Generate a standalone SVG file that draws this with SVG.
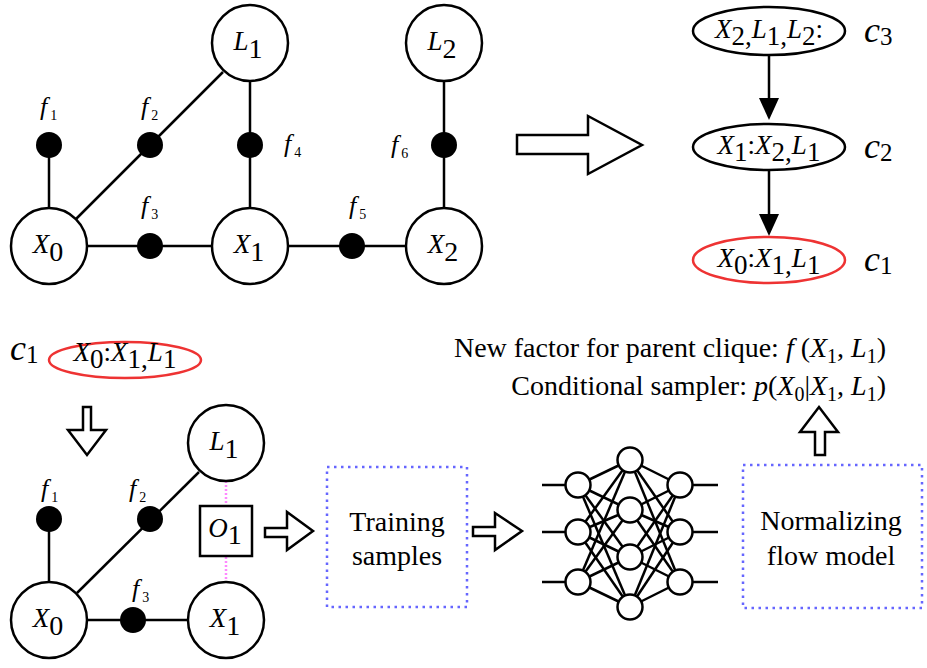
<svg xmlns="http://www.w3.org/2000/svg" width="927" height="668" viewBox="0 0 927 668">
<style>
text{font-family:"Liberation Serif","Times New Roman",serif;fill:#000}
.node{fill:#fff;stroke:#000;stroke-width:2.5}
.fac{fill:#000}
.edge{stroke:#000;stroke-width:2.5;fill:none}
.nl{font-size:27px;font-style:italic}
.nd{font-size:28px;font-style:normal}
.f{font-size:26px;font-style:italic}
.fs{font-size:14px;font-style:normal}
.el{font-size:27px;font-style:italic}
.up{font-style:normal}
.c{font-size:36px;font-style:italic}
.cs{font-size:25px;font-style:normal}
.hollow{fill:#fff;stroke:#000;stroke-width:2.5;stroke-linejoin:miter}
.box{fill:none;stroke:#6666ff;stroke-width:2.5;stroke-dasharray:2.5 4.5}
.lbl{font-size:28px}
.m{font-style:italic}
.ms{font-size:20px;font-style:normal}
.nn{fill:#fff;stroke:#000;stroke-width:2.5}
</style>

<g id="connectors">
  <line class="edge" x1="49" y1="145" x2="49" y2="208"/>
  <line class="edge" x1="76" y1="219" x2="223" y2="72"/>
  <line class="edge" x1="250" y1="81" x2="250" y2="208"/>
  <line class="edge" x1="87" y1="246" x2="212" y2="246"/>
  <line class="edge" x1="288" y1="246" x2="406" y2="246"/>
  <line class="edge" x1="444" y1="81" x2="444" y2="208"/>
  <polygon class="hollow" points="517,135 588,135 588,116 642,145 588,174 588,154 517,154"/>
  <line class="edge" x1="769" y1="54" x2="769" y2="100"/>
  <polygon points="759,98 779,98 769,120" fill="#000"/>
  <line class="edge" x1="769" y1="170" x2="769" y2="215"/>
  <polygon points="759,214 779,214 769,236" fill="#000"/>
  <polygon class="hollow" points="83,407 91,407 91,430 106,430 87,455 68,430 83,430"/>
  <line class="edge" x1="49" y1="519" x2="49" y2="582"/>
  <line class="edge" x1="77" y1="593" x2="199" y2="472"/>
  <line class="edge" x1="87" y1="620" x2="188" y2="620"/>
  <line x1="226" y1="481" x2="226" y2="506" stroke="#ff88ff" stroke-width="2.5" stroke-dasharray="2 2"/>
  <line x1="226" y1="557" x2="226" y2="582" stroke="#ff88ff" stroke-width="2.5" stroke-dasharray="2 2"/>
  <polygon class="hollow" points="265,528 287,528 287,512 313,531 287,550 287,537 265,537"/>
  <polygon class="hollow" points="473,527 495,527 495,513 522,531 495,550 495,536 473,536"/>
  <polygon class="hollow" points="815,455 815,432 800,432 819,407 838,432 825,432 825,455"/>
</g>

<g id="X0">
  <circle class="node" cx="49" cy="246" r="38"/>
  <text class="nl" x="48" y="253" text-anchor="middle">X<tspan class="nd" dy="8">0</tspan></text>
</g>
<g id="X1">
  <circle class="node" cx="250" cy="246" r="38"/>
  <text class="nl" x="249" y="253" text-anchor="middle">X<tspan class="nd" dy="8">1</tspan></text>
</g>
<g id="X2">
  <circle class="node" cx="444" cy="246" r="38"/>
  <text class="nl" x="443" y="253" text-anchor="middle">X<tspan class="nd" dy="8">2</tspan></text>
</g>
<g id="L1">
  <circle class="node" cx="250" cy="43" r="38"/>
  <text class="nl" x="248" y="50" text-anchor="middle">L<tspan class="nd" dy="8">1</tspan></text>
</g>
<g id="L2">
  <circle class="node" cx="444" cy="43" r="38"/>
  <text class="nl" x="442" y="50" text-anchor="middle">L<tspan class="nd" dy="8">2</tspan></text>
</g>
<g id="f1">
  <circle class="fac" cx="49" cy="145" r="13"/>
  <text class="f" x="40" y="115">f<tspan class="fs" dx="3" dy="5">1</tspan></text>
</g>
<g id="f2">
  <circle class="fac" cx="150" cy="145" r="13"/>
  <text class="f" x="141" y="115">f<tspan class="fs" dx="3" dy="5">2</tspan></text>
</g>
<g id="f3">
  <circle class="fac" cx="150" cy="246" r="13"/>
  <text class="f" x="141" y="214">f<tspan class="fs" dx="3" dy="5">3</tspan></text>
</g>
<g id="f4">
  <circle class="fac" cx="250" cy="145" r="13"/>
  <text class="f" x="284" y="152">f<tspan class="fs" dx="3" dy="5">4</tspan></text>
</g>
<g id="f5">
  <circle class="fac" cx="352" cy="246" r="13"/>
  <text class="f" x="349" y="214">f<tspan class="fs" dx="3" dy="5">5</tspan></text>
</g>
<g id="f6">
  <circle class="fac" cx="444" cy="145" r="13"/>
  <text class="f" x="391" y="153">f<tspan class="fs" dx="3" dy="5">6</tspan></text>
</g>

<g id="c3">
  <ellipse class="node" cx="769" cy="31" rx="76" ry="24"/>
  <text class="el" x="769" y="38" text-anchor="middle">X<tspan class="up" dy="7">2,</tspan><tspan dy="-7">L</tspan><tspan class="up" dy="7">1,</tspan><tspan dy="-7">L</tspan><tspan class="up" dy="7">2</tspan><tspan class="up" dy="-7">:</tspan></text>
  <text class="c" x="864" y="42">c<tspan class="cs" dy="3">3</tspan></text>
</g>
<g id="c2">
  <ellipse class="node" cx="769" cy="147" rx="76" ry="23"/>
  <text class="el" x="769" y="154" text-anchor="middle">X<tspan class="up" dy="7">1</tspan><tspan class="up" dy="-7">:</tspan>X<tspan class="up" dy="7">2,</tspan><tspan dy="-7">L</tspan><tspan class="up" dy="7">1</tspan></text>
  <text class="c" x="864" y="158">c<tspan class="cs" dy="3">2</tspan></text>
</g>
<g id="c1">
  <ellipse cx="769" cy="260" rx="76" ry="23" fill="#fff" stroke="#ee3333" stroke-width="2.5"/>
  <text class="el" x="769" y="267" text-anchor="middle">X<tspan class="up" dy="7">0</tspan><tspan class="up" dy="-7">:</tspan>X<tspan class="up" dy="7">1,</tspan><tspan dy="-7">L</tspan><tspan class="up" dy="7">1</tspan></text>
  <text class="c" x="864" y="271">c<tspan class="cs" dy="3">1</tspan></text>
</g>

<g id="c1b">
  <text class="c" x="10" y="360">c<tspan class="cs" dy="3">1</tspan></text>
  <ellipse cx="125" cy="360" rx="76" ry="18" fill="#fff" stroke="#ee3333" stroke-width="2.5"/>
  <text class="el" x="125" y="361" text-anchor="middle">X<tspan class="up" dy="7">0</tspan><tspan class="up" dy="-7">:</tspan>X<tspan class="up" dy="7">1,</tspan><tspan dy="-7">L</tspan><tspan class="up" dy="7">1</tspan></text>
</g>

<g id="bX0">
  <circle class="node" cx="49" cy="620" r="38"/>
  <text class="nl" x="48" y="627" text-anchor="middle">X<tspan class="nd" dy="8">0</tspan></text>
</g>
<g id="bX1">
  <circle class="node" cx="226" cy="620" r="38"/>
  <text class="nl" x="225" y="627" text-anchor="middle">X<tspan class="nd" dy="8">1</tspan></text>
</g>
<g id="bL1">
  <circle class="node" cx="226" cy="443" r="38"/>
  <text class="nl" x="224" y="450" text-anchor="middle">L<tspan class="nd" dy="8">1</tspan></text>
</g>
<g id="bf1">
  <circle class="fac" cx="49" cy="519" r="13"/>
  <text class="f" x="41" y="497">f<tspan class="fs" dx="3" dy="5">1</tspan></text>
</g>
<g id="bf2">
  <circle class="fac" cx="150" cy="519" r="13"/>
  <text class="f" x="129" y="497">f<tspan class="fs" dx="3" dy="5">2</tspan></text>
</g>
<g id="bf3">
  <circle class="fac" cx="133" cy="620" r="13"/>
  <text class="f" x="132" y="597">f<tspan class="fs" dx="3" dy="5">3</tspan></text>
</g>
<g id="O1">
  <rect x="200" y="506" width="52" height="50" fill="#fff" stroke="#000" stroke-width="2.5"/>
  <text class="nl" x="225" y="537" text-anchor="middle">O<tspan class="nd" dy="7">1</tspan></text>
</g>

<g id="training">
  <rect class="box" x="327" y="467" width="140" height="140"/>
  <text class="lbl" x="397" y="531" text-anchor="middle">Training</text>
  <text class="lbl" x="397" y="565" text-anchor="middle">samples</text>
</g>

<g id="nnet">
  <g class="edge">
    <line x1="542" y1="485" x2="578" y2="485"/>
    <line x1="542" y1="532" x2="578" y2="532"/>
    <line x1="542" y1="582" x2="578" y2="582"/>
    <line x1="680" y1="485" x2="718" y2="485"/>
    <line x1="680" y1="532" x2="718" y2="532"/>
    <line x1="680" y1="582" x2="718" y2="582"/>
    <line x1="578" y1="485" x2="630" y2="460"/><line x1="578" y1="485" x2="630" y2="510"/><line x1="578" y1="485" x2="630" y2="557"/><line x1="578" y1="485" x2="630" y2="607"/>
    <line x1="578" y1="532" x2="630" y2="460"/><line x1="578" y1="532" x2="630" y2="510"/><line x1="578" y1="532" x2="630" y2="557"/><line x1="578" y1="532" x2="630" y2="607"/>
    <line x1="578" y1="582" x2="630" y2="460"/><line x1="578" y1="582" x2="630" y2="510"/><line x1="578" y1="582" x2="630" y2="557"/><line x1="578" y1="582" x2="630" y2="607"/>
    <line x1="680" y1="485" x2="630" y2="460"/><line x1="680" y1="485" x2="630" y2="510"/><line x1="680" y1="485" x2="630" y2="557"/><line x1="680" y1="485" x2="630" y2="607"/>
    <line x1="680" y1="532" x2="630" y2="460"/><line x1="680" y1="532" x2="630" y2="510"/><line x1="680" y1="532" x2="630" y2="557"/><line x1="680" y1="532" x2="630" y2="607"/>
    <line x1="680" y1="582" x2="630" y2="460"/><line x1="680" y1="582" x2="630" y2="510"/><line x1="680" y1="582" x2="630" y2="557"/><line x1="680" y1="582" x2="630" y2="607"/>
  </g>
  <circle class="nn" cx="578" cy="485" r="12.5"/>
  <circle class="nn" cx="578" cy="532" r="12.5"/>
  <circle class="nn" cx="578" cy="582" r="12.5"/>
  <circle class="nn" cx="630" cy="460" r="12.5"/>
  <circle class="nn" cx="630" cy="510" r="12.5"/>
  <circle class="nn" cx="630" cy="557" r="12.5"/>
  <circle class="nn" cx="630" cy="607" r="12.5"/>
  <circle class="nn" cx="680" cy="485" r="12.5"/>
  <circle class="nn" cx="680" cy="532" r="12.5"/>
  <circle class="nn" cx="680" cy="582" r="12.5"/>
</g>

<g id="flow">
  <rect class="box" x="743" y="465" width="179" height="143"/>
  <text class="lbl" x="831" y="530" text-anchor="middle">Normalizing</text>
  <text class="lbl" x="831" y="565" text-anchor="middle">flow model</text>
</g>

<g id="outputs">
  <text class="lbl" x="886" y="357" text-anchor="end">New factor for parent clique: <tspan class="m">f</tspan> (<tspan class="m">X</tspan><tspan class="ms" dy="6">1</tspan><tspan dy="-6">, </tspan><tspan class="m">L</tspan><tspan class="ms" dy="6">1</tspan><tspan dy="-6">)</tspan></text>
  <text class="lbl" x="886" y="395" text-anchor="end">Conditional sampler: <tspan class="m">p</tspan>(<tspan class="m">X</tspan><tspan class="ms" dy="6">0</tspan><tspan dy="-6">|</tspan><tspan class="m">X</tspan><tspan class="ms" dy="6">1</tspan><tspan dy="-6">, </tspan><tspan class="m">L</tspan><tspan class="ms" dy="6">1</tspan><tspan dy="-6">)</tspan></text>
</g>
</svg>
